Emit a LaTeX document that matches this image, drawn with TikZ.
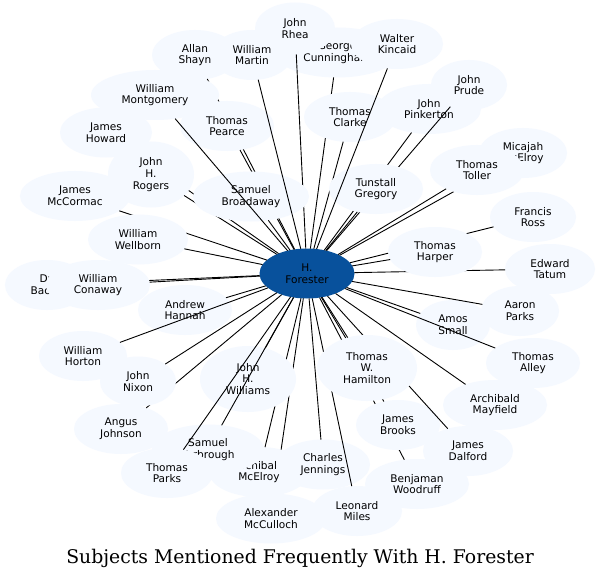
\documentclass[tikz,border=0pt]{standalone}
\usepackage{fontspec}
\usetikzlibrary{shapes.geometric}
\setmainfont{DejaVu Sans}
\newfontfamily\titlefont{DejaVu Serif}
\definecolor{nodefill}{HTML}{F5F9FF}
\definecolor{hubfill}{HTML}{08519C}
\tikzset{
  pn/.style={ellipse, fill=nodefill, inner sep=0pt, outer sep=0pt, align=center,
    font=\fontsize{10.6}{11.8}\selectfont, text=black},
  hub/.style={ellipse, fill=hubfill, inner sep=0pt, outer sep=0pt, align=center,
    font=\fontsize{10.6}{11.8}\selectfont, text=black, minimum width=95bp, minimum height=50bp},
  edge/.style={draw=black, line width=0.9bp},
  titlestyle/.style={font=\titlefont\fontsize{18.9}{22}\selectfont, inner sep=0pt}
}
\newcommand\Pnode[6]{%
  \node[pn, minimum width=#4bp, minimum height=#5bp] (#1) at (#2,#3) {#6};
  \draw[edge] (F) -- (#1);}
\begin{document}
\begin{tikzpicture}[x=1bp,y=-1bp]
\fill[white] (0,0) rectangle (600,580);
\useasboundingbox (0,0) rectangle (600,580);
\node[hub] (F) at (307,273.5) {H.\\Forester};
\Pnode{cunningham}{337}{52.5}{124}{50}{George\\Cunningham}
\Pnode{rhea}{295}{28.5}{80}{52}{John\\Rhea}
\Pnode{clarke}{350}{117}{92}{50}{Thomas\\Clarke}
\Pnode{pinkerton}{429}{109}{104}{50}{John\\Pinkerton}
\Pnode{prude}{469}{85}{76}{50}{John\\Prude}
\Pnode{tunstall}{376}{189}{94}{50}{Tunstall\\Gregory}
\Pnode{kincaid}{397}{44}{92}{50}{Walter\\Kincaid}
\Pnode{shayn}{195}{55}{86}{50}{Allan\\Shayn}
\Pnode{pearce}{227}{126}{94}{50}{Thomas\\Pearce}
\Pnode{howard}{106}{132.5}{92}{50}{James\\Howard}
\Pnode{rogers}{151}{174.5}{86}{66}{John\\H.\\Rogers}
\Pnode{broadaway}{251}{196.5}{116}{50}{Samuel\\Broadaway}
\Pnode{montgomery}{155}{95}{128}{50}{William\\Montgomery}
\Pnode{martin}{252}{55}{80}{50}{William\\Martin}
\Pnode{mccormac}{75}{196}{110}{50}{James\\McCormac}
\Pnode{wellborn}{138}{239.5}{100}{50}{William\\Wellborn}
\Pnode{bacon}{47}{285}{84}{50}{Dr.\\Bacon}
\Pnode{conaway}{98}{285}{104}{50}{William\\Conaway}
\Pnode{hannah}{185}{310}{94}{50}{Andrew\\Hannah}
\Pnode{horton}{83}{356}{88}{50}{William\\Horton}
\Pnode{angus}{121}{429}{94}{50}{Angus\\Johnson}
\Pnode{nixon}{138}{381.5}{76}{50}{John\\Nixon}
\Pnode{mcculloch}{271}{518.5}{110}{50}{Alexander\\McCulloch}
\Pnode{amcelroy}{259}{472}{100}{50}{Archibald\\McElroy}
\Pnode{williams}{248}{379}{96}{66}{John\\H.\\Williams}
\Pnode{yarbrough}{208}{449.5}{112}{50}{Samuel\\Yarbrough}
\Pnode{tparks}{167}{473}{92}{50}{Thomas\\Parks}
\Pnode{jennings}{323}{464.5}{94}{50}{Charles\\Jennings}
\Pnode{miles}{357}{511}{90}{50}{Leonard\\Miles}
\Pnode{woodruff}{417}{484}{104}{50}{Benjaman\\Woodruff}
\Pnode{brooks}{398}{425}{84}{50}{James\\Brooks}
\Pnode{dalford}{468}{451}{90}{50}{James\\Dalford}
\Pnode{hamilton}{367}{368}{100}{66}{Thomas\\W.\\Hamilton}
\Pnode{mayfield}{495}{405}{104}{50}{Archibald\\Mayfield}
\Pnode{amos}{453}{325}{74}{50}{Amos\\Small}
\Pnode{alley}{533}{363}{94}{50}{Thomas\\Alley}
\Pnode{aparks}{520}{311}{78}{50}{Aaron\\Parks}
\Pnode{ross}{533}{217}{86}{50}{Francis\\Ross}
\Pnode{tatum}{550}{269}{90}{50}{Edward\\Tatum}
\Pnode{harper}{435}{252}{94}{50}{Thomas\\Harper}
\Pnode{micajah}{523}{153}{88}{50}{Micajah\\McElroy}
\Pnode{toller}{477}{170}{94}{50}{Thomas\\Toller}
\node[titlestyle] (title) at (300,558) {Subjects Mentioned Frequently With H. Forester};
\end{tikzpicture}
\end{document}
